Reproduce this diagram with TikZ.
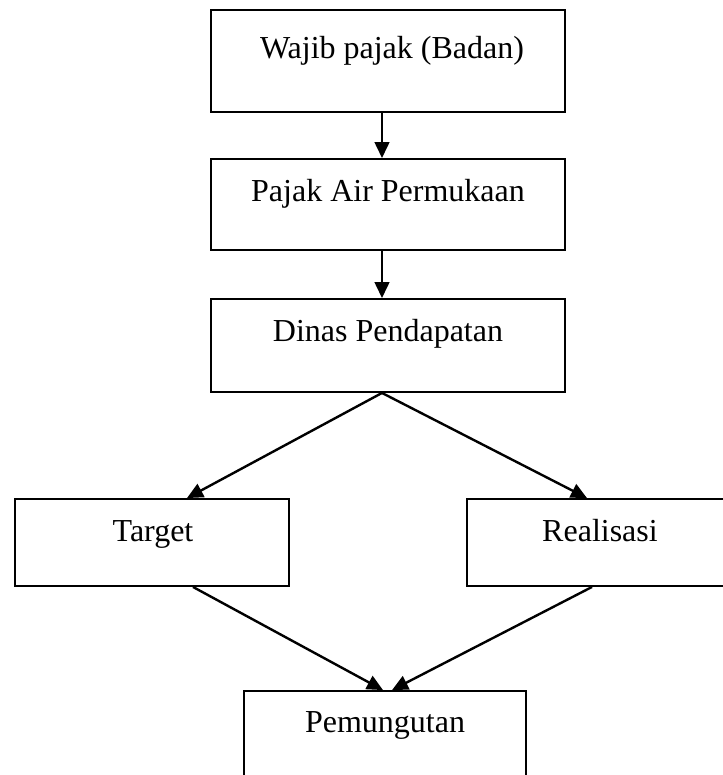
\documentclass[tikz,border=0pt]{standalone}
\usepackage{fontspec}
\setmainfont{Liberation Serif}
\usetikzlibrary{arrows.meta}
\begin{document}
\begin{tikzpicture}[x=0.75pt,y=-0.75pt,
  box/.style={draw, line width=1.4pt, inner sep=0pt, fill=none},
  lbl/.style={anchor=base, inner sep=0pt, font=\fontsize{24}{28}\selectfont},
  arr/.style={line width=1.8pt, -{Triangle[width=11pt,length=12pt]}}]
\useasboundingbox (0,0) rectangle (723,775);
\clip (0,0) rectangle (723,775);
% boxes
\node[box, minimum width=265.5pt, minimum height=76.5pt] (b1) at (388,61) {};
\node[box, minimum width=265.5pt, minimum height=68.25pt] (b2) at (388,204.5) {};
\node[box, minimum width=265.5pt, minimum height=69.75pt] (b3) at (388,345.5) {};
\node[box, minimum width=205.5pt, minimum height=65.25pt] (bt) at (152,542.5) {};
\node[box, minimum width=205.5pt, minimum height=65.25pt] (br) at (604,542.5) {};
\node[box, minimum width=211.5pt, minimum height=65.25pt] (bp) at (385,734.5) {};
% labels
\node[lbl] (t1) at (392,58) {Wajib pajak (Badan)};
\node[lbl] (t2) at (388,201) {Pajak Air Permukaan};
\node[lbl] (t3) at (388,341) {Dinas Pendapatan};
\node[lbl] (tt) at (153,541) {Target};
\node[lbl] (tr) at (600,541) {Realisasi};
\node[lbl] (tp) at (385,732) {Pemungutan};
% connectors
\draw[arr] ([xshift=-4.5pt]b1.south) -- ([xshift=-4.5pt]b2.north);
\draw[arr] ([xshift=-4.5pt]b2.south) -- ([xshift=-4.5pt]b3.north);
\draw[arr] ([xshift=-4.5pt]b3.south) -- ([xshift=26.25pt]bt.north);
\draw[arr] ([xshift=-4.5pt]b3.south) -- ([xshift=-12.75pt]br.north);
\draw[arr] ([xshift=30.75pt]bt.south) -- ([xshift=-1.5pt]bp.north);
\draw[arr] ([xshift=-9pt]br.south) -- ([xshift=5.25pt]bp.north);
\end{tikzpicture}
\end{document}
